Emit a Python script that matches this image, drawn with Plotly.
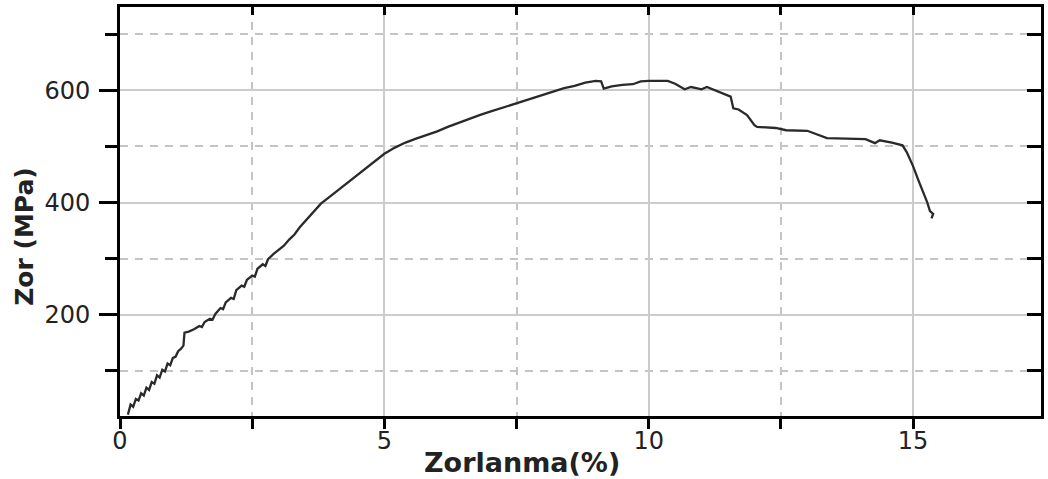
import plotly.graph_objects as go

# Stress-strain curve
strain = [0.15, 0.20, 0.25, 0.30, 0.35, 0.40, 0.45, 0.50, 0.55, 0.60, 0.65, 0.70,
          0.75, 0.80, 0.85, 0.90, 0.95, 1.00, 1.05, 1.10, 1.15, 1.20, 1.22, 1.30,
          1.40, 1.50, 1.55, 1.60, 1.70, 1.75, 1.80, 1.90, 1.95, 2.00, 2.10, 2.15,
          2.20, 2.30, 2.35, 2.40, 2.50, 2.55, 2.60, 2.70, 2.75, 2.80, 2.90, 3.00,
          3.10, 3.20, 3.30, 3.40, 3.60, 3.80, 4.00, 4.20, 4.40,
          4.60, 4.80, 5.00, 5.20, 5.40, 5.60, 5.80, 6.00, 6.20, 6.40, 6.60, 6.80,
          7.00, 7.20, 7.40, 7.60, 7.80, 8.00, 8.20, 8.40, 8.60, 8.80, 9.00, 9.10,
          9.15, 9.30, 9.50, 9.70, 9.85, 10.00, 10.36, 10.50, 10.68, 10.80, 10.90,
          11.00, 11.10, 11.30, 11.55, 11.60, 11.70, 11.86, 12.00, 12.05, 12.40,
          12.60, 13.00, 13.37, 14.10, 14.28, 14.37, 14.60, 14.80, 14.88, 15.00,
          15.10, 15.20, 15.27, 15.32, 15.38, 15.35]
stress = [22, 40, 36, 50, 47, 60, 56, 70, 66, 80, 77, 92,
          88, 102, 99, 113, 110, 123, 125, 135, 139, 145, 168, 170,
          174, 180, 178, 187, 193, 191, 201, 212, 210, 222, 230, 228,
          244, 252, 250, 262, 270, 268, 282, 290, 287, 299, 308, 316,
          323, 334, 343, 356, 378, 398, 413, 428, 443,
          458, 472, 487, 498, 507, 514, 520, 527, 535, 542, 550, 556,
          562, 568, 574, 579, 586, 592, 598, 604, 608, 614, 617, 616,
          603, 607, 610, 611, 616, 617, 617, 612, 602, 606, 604,
          602, 606, 599, 589, 568, 566, 556, 538, 535, 533,
          529, 528, 515, 513, 506, 511, 507, 502, 490, 465,
          440, 418, 400, 385, 380, 372]

x_major = [0, 5, 10, 15]
x_major_labels = ["0", "5", "10", "15"]
x_minor = [2.5, 7.5, 12.5]
y_major = [200, 400, 600]
y_major_labels = ["200", "400", "600"]
y_minor = [100, 300, 500, 700]

x_range = [0, 17.42]
y_range = [19.5, 748.7]

x_title = "Zorlanma(%)"
y_title = "Zor (MPa)"

fig = go.Figure()
fig.add_trace(go.Scatter(x=strain, y=stress, mode="lines",
                         line=dict(color="#2a2a2a", width=2.3),
                         showlegend=False, hoverinfo="skip"))
# invisible trace on mirrored axes
fig.add_trace(go.Scatter(x=[None], y=[None], xaxis="x2", yaxis="y2",
                         showlegend=False, hoverinfo="skip"))

tickfont = dict(family="DejaVu Sans", size=24, color="#222222")

fig.update_layout(
    width=1048, height=479,
    margin=dict(l=120, r=4, t=4, b=63),
    paper_bgcolor="white", plot_bgcolor="white",
    xaxis=dict(range=x_range, tickmode="array", tickvals=x_major, ticktext=x_major_labels,
               ticks="outside", ticklen=10, tickwidth=3, tickcolor="black",
               showline=True, linewidth=3, linecolor="black", mirror=True,
               showgrid=True, gridcolor="#cccccc", gridwidth=2,
               zeroline=False, tickfont=tickfont, ticklabelstandoff=-9,
               minor=dict(tickmode="array", tickvals=x_minor, ticks="outside",
                          ticklen=10, tickwidth=3, tickcolor="black",
                          showgrid=True, gridcolor="#c4c4c4", gridwidth=1.5,
                          griddash="8px,7px")),
    yaxis=dict(range=y_range, tickmode="array", tickvals=y_major, ticktext=y_major_labels,
               ticks="outside", ticklen=18, tickwidth=3, tickcolor="black",
               showline=True, linewidth=3, linecolor="black", mirror=True,
               showgrid=True, gridcolor="#cccccc", gridwidth=2,
               zeroline=False, tickfont=tickfont, ticklabelstandoff=4,
               minor=dict(tickmode="array", tickvals=y_minor, ticks="outside",
                          ticklen=12, tickwidth=3, tickcolor="black",
                          showgrid=True, gridcolor="#c4c4c4", gridwidth=1.5,
                          griddash="8px,7px")),
    xaxis2=dict(range=x_range, overlaying="x", side="top", anchor="y2",
                tickmode="array", tickvals=x_major + x_minor,
                ticks="inside", ticklen=8, tickwidth=3, tickcolor="black",
                showticklabels=False, showgrid=False, zeroline=False, showline=False),
    yaxis2=dict(range=y_range, overlaying="y", side="right", anchor="x2",
                tickmode="array", tickvals=y_major + y_minor,
                ticks="inside", ticklen=14, tickwidth=3, tickcolor="black",
                showticklabels=False, showgrid=False, zeroline=False, showline=False),
    annotations=[
        dict(text=x_title, xref="paper", yref="paper", x=0.437, y=-0.114,
             xanchor="center", yanchor="middle", showarrow=False,
             font=dict(family="DejaVu Sans", size=27, color="#222222", weight="bold")),
        dict(text=y_title, xref="paper", yref="paper", x=-0.1038, y=0.439,
             xanchor="center", yanchor="middle", showarrow=False, textangle=-90,
             font=dict(family="DejaVu Sans", size=25, color="#222222", weight="bold")),
    ],
)

fig.write_html("out.html", config={"displayModeBar": False},
               post_script="document.body.style.margin='0';document.body.style.padding='0';")
